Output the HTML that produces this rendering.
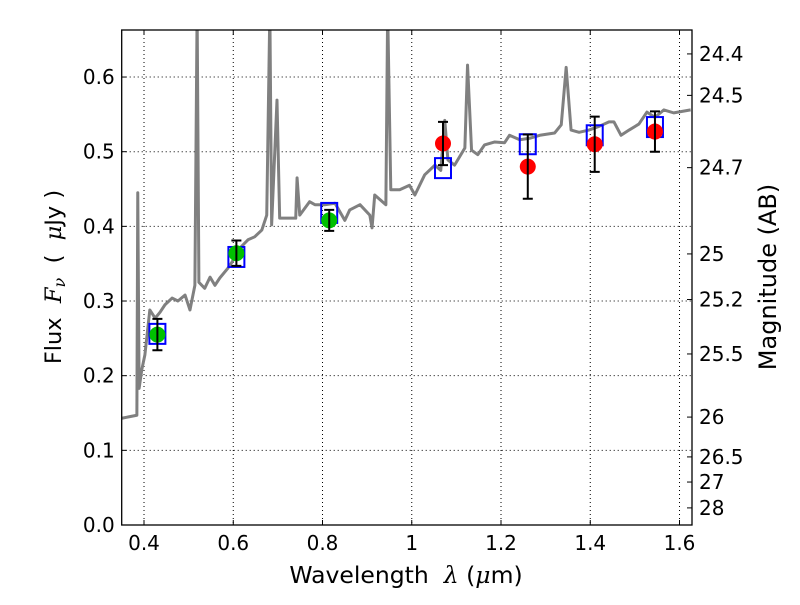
<!DOCTYPE html>
<html><head><meta charset="utf-8"><style>
body{margin:0;background:#fff;}
svg text{font-family:"DejaVu Sans","Liberation Sans",sans-serif;fill:#000;white-space:pre;}
</style></head><body>
<svg id="chart" width="800" height="600" xmlns="http://www.w3.org/2000/svg">
<g id="grid"></g>
<g id="plot"></g>
<g id="axes"></g>
<text x="406" y="583" font-size="23.5" text-anchor="middle">Wavelength  <tspan font-style="italic" font-family="DejaVu Serif,serif">λ</tspan> (<tspan font-style="italic" font-family="DejaVu Serif,serif">μ</tspan>m)</text>
<text transform="translate(61,277) rotate(-90)" font-size="22.5" text-anchor="middle">Flux  <tspan font-style="italic" font-family="DejaVu Serif,serif">F<tspan font-size="16" dy="4">ν</tspan></tspan><tspan dy="-4">  (  </tspan><tspan font-style="italic" font-family="DejaVu Serif,serif">μ</tspan>Jy )</text>
<text transform="translate(776,277) rotate(-90)" font-size="24" text-anchor="middle">Magnitude (AB)</text>
</svg>
<script>
const specLam=[0.35,0.384,0.386,0.389,0.395,0.402,0.413,0.425,0.436,0.447,0.463,0.476,0.492,0.503,0.514,0.519,0.523,0.536,0.548,0.559,0.570,0.588,0.597,0.615,0.633,0.648,0.664,0.675,0.682,0.686,0.698,0.704,0.740,0.743,0.749,0.771,0.783,0.805,0.828,0.850,0.861,0.884,0.906,0.911,0.917,0.942,0.946,0.953,0.973,0.995,1.007,1.029,1.052,1.065,1.074,1.081,1.096,1.119,1.125,1.134,1.148,1.163,1.186,1.208,1.219,1.242,1.264,1.287,1.320,1.335,1.346,1.357,1.375,1.397,1.420,1.442,1.453,1.469,1.487,1.509,1.527,1.545,1.565,1.587,1.625];
const specFlux=[0.143,0.147,0.445,0.183,0.208,0.228,0.288,0.277,0.285,0.295,0.304,0.300,0.308,0.288,0.321,0.69,0.325,0.317,0.332,0.321,0.331,0.344,0.352,0.371,0.382,0.386,0.395,0.415,0.69,0.402,0.569,0.411,0.411,0.465,0.415,0.433,0.429,0.429,0.431,0.408,0.422,0.429,0.415,0.398,0.442,0.429,0.69,0.449,0.449,0.455,0.442,0.469,0.482,0.475,0.542,0.489,0.482,0.505,0.616,0.502,0.496,0.509,0.513,0.512,0.522,0.516,0.518,0.522,0.525,0.536,0.613,0.529,0.526,0.529,0.534,0.540,0.540,0.522,0.529,0.537,0.553,0.546,0.556,0.552,0.556];
const modelLam=[0.43,0.607,0.815,1.07,1.26,1.41,1.545];
const modelFlux=[0.256,0.359,0.418,0.478,0.510,0.522,0.533];
const greenLam=[0.43,0.607,0.815];
const greenFlux=[0.255,0.364,0.408];
const greenErr=[0.021,0.017,0.014];
const redLam=[1.07,1.26,1.41,1.545];
const redFlux=[0.511,0.480,0.510,0.527];
const redErr=[0.029,0.043,0.037,0.027];
const xTicks=[0.4,0.6,0.8,1.0,1.2,1.4,1.6];
const xTickLabels=["0.4","0.6","0.8","1","1.2","1.4","1.6"];
const yTicks=[0,0.1,0.2,0.3,0.4,0.5,0.6];
const yTickLabels=["0.0","0.1","0.2","0.3","0.4","0.5","0.6"];
const magTicks=[24.4,24.5,24.7,25,25.2,25.5,26,26.5,27,28];
const magLabels=["24.4","24.5","24.7","25","25.2","25.5","26","26.5","27","28"];

const L=121.7,R=692,T=30,B=525,X0=0.35,X1=1.628,Y0=0,Y1=0.663;
const sx=v=>L+(v-X0)/(X1-X0)*(R-L);
const sy=v=>B-(v-Y0)/(Y1-Y0)*(B-T);
const NS="http://www.w3.org/2000/svg";
function mk(tag,attrs,parent){const e=document.createElementNS(NS,tag);for(const k in attrs)e.setAttribute(k,attrs[k]);parent.appendChild(e);return e;}
const grid=document.getElementById('grid'),plot=document.getElementById('plot'),axes=document.getElementById('axes');

xTicks.forEach((t,i)=>{
 const g=mk('line',{x1:sx(t),x2:sx(t),y1:T,y2:B,stroke:'#000','stroke-width':1,'stroke-dasharray':'1,3'},grid);
 
 
 mk('line',{x1:sx(t),x2:sx(t),y1:B,y2:B-5,stroke:'#000'},axes);
 mk('line',{x1:sx(t),x2:sx(t),y1:T,y2:T+5,stroke:'#000'},axes);
 const tx=mk('text',{x:sx(t),y:B+25,'font-size':20,'text-anchor':'middle'},axes);
 tx.textContent=xTickLabels[i];
 
 
});
yTicks.forEach((t,i)=>{
 if(t>0){const g=mk('line',{x1:L,x2:R,y1:sy(t),y2:sy(t),stroke:'#000','stroke-width':1,'stroke-dasharray':'1,3'},grid);
 
 }
 mk('line',{x1:L,x2:L+5,y1:sy(t),y2:sy(t),stroke:'#000'},axes);
 const tx=mk('text',{x:L-7,y:sy(t)+7,'font-size':20,'text-anchor':'end'},axes);
 tx.textContent=yTickLabels[i];
 
 
});
magTicks.forEach((m,i)=>{
 const f=Math.pow(10,(23.9-m)/2.5);
 mk('line',{x1:R,x2:R-5,y1:sy(f),y2:sy(f),stroke:'#000'},axes);
 const tx=mk('text',{x:R+7,y:sy(f)+7,'font-size':20},axes);
 tx.textContent=magLabels[i];
 
 
});
const frame=mk('rect',{x:L,y:T,width:R-L,height:B-T,fill:'none',stroke:'#000','stroke-width':1.3},axes);



const cp=mk('clipPath',{id:'cp'},plot);mk('rect',{x:L,y:T,width:R-L,height:B-T},cp);
const spec=mk('polyline',{points:specLam.map((l,i)=>sx(l)+','+sy(specFlux[i])).join(' '),fill:'none',stroke:'#808080','stroke-width':3,'clip-path':'url(#cp)','stroke-linejoin':'round'},plot);



modelLam.forEach((l,i)=>{
 const r=mk('rect',{x:sx(l)-8,y:sy(modelFlux[i])-10,width:16,height:20,fill:'none',stroke:'#0000ff','stroke-width':2},plot);
 
 
});
function pts(lams,fl,er,col,name){
 lams.forEach((l,i)=>{
  const x=sx(l);
  const c=mk('circle',{cx:x,cy:sy(fl[i]),r:8,fill:col},plot);
  
  
  const y1=sy(fl[i]+er[i]),y2=sy(fl[i]-er[i]);
  const eb=mk('path',{d:`M${x},${y1}V${y2}M${x-5},${y1}H${x+5}M${x-5},${y2}H${x+5}`,stroke:'#000','stroke-width':2,fill:'none'},plot);
  
  
 });
}
pts(greenLam,greenFlux,greenErr,'#00c000','green-data-point');
pts(redLam,redFlux,redErr,'#ff0000','red-data-point');
</script>
</body></html>
